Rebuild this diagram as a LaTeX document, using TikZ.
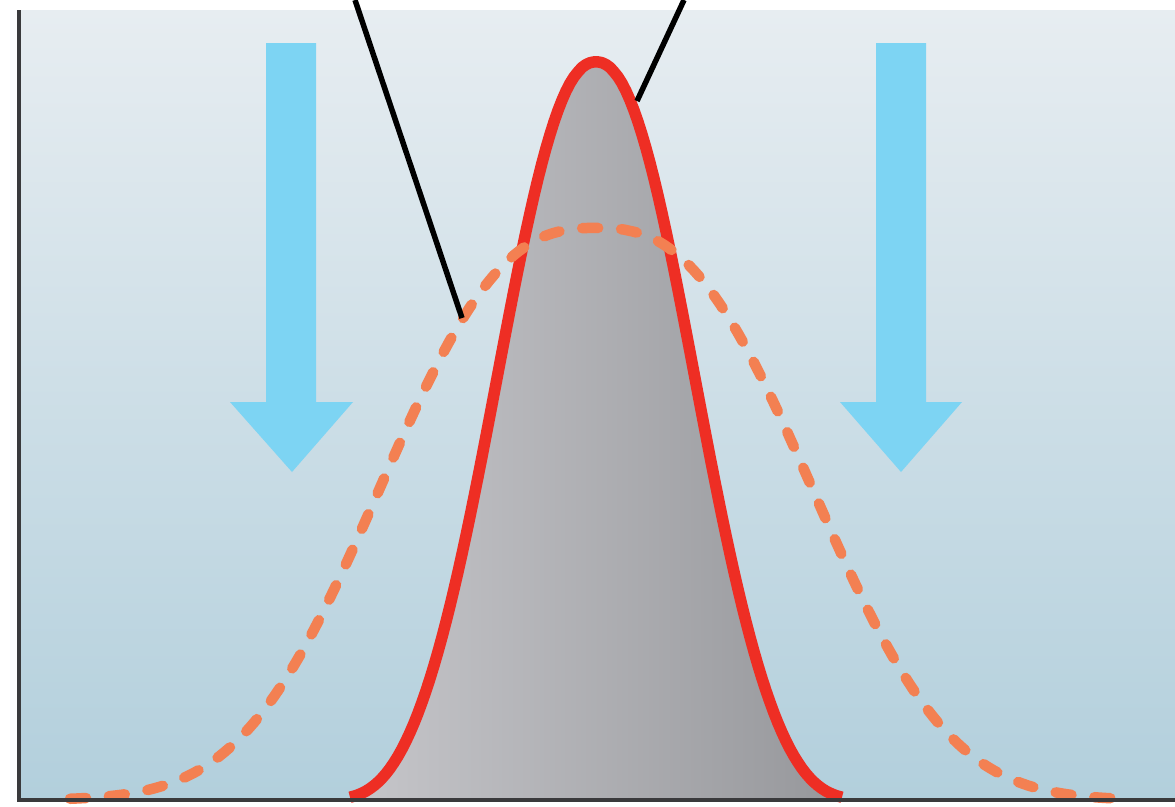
\documentclass[tikz,border=0pt]{standalone}
\usepackage{tikz}
\usetikzlibrary{arrows.meta,positioning}

\definecolor{bgtop}{RGB}{231,237,241}
\definecolor{bgbottom}{RGB}{178,207,220}
\definecolor{fillleft}{RGB}{198,198,202}
\definecolor{fillright}{RGB}{150,151,155}
\definecolor{peakred}{RGB}{238,46,36}
\definecolor{spreadorange}{RGB}{243,128,82}
\definecolor{arrowblue}{RGB}{125,212,243}
\definecolor{axisgray}{RGB}{58,58,60}

\begin{document}
\begin{tikzpicture}[
  x=0.2mm, y=-0.2mm,
  declare function={
    narrowpk(\x)=800-738*exp(-pow(abs(\x-596)/129+0.0001,2.2)-pow(abs(\x-596)/235,8));
    widepk(\x)=800-572*exp(-pow(abs(\x-596)/262+0.0001,2.6));
  },
  peakline/.style={draw=peakred, line width=2.3mm, line join=round},
  spreadline/.style={draw=spreadorange, line width=2.1mm, line cap=round,
                     dash pattern=on 3.2mm off 4.6mm},
  downarrow/.style={fill=arrowblue},
  leader/.style={draw=black, line width=1.1mm},
  axisline/.style={draw=axisgray, line width=0.8mm}
]
\useasboundingbox (0,0) rectangle (1175,806);
\shade[top color=bgtop, bottom color=bgbottom] (19,10) rectangle (1175,800);

% narrow distribution
\shade[left color=fillleft, right color=fillright]
  plot[domain=350:842, samples=124] (\x,{narrowpk(\x)}) -- (842,800) -- (350,800) -- cycle;
\draw[peakline] plot[domain=350:842, samples=124] (\x,{narrowpk(\x)});

% wide distribution
\draw[spreadline] plot[domain=70:1118, samples=211] (\x,{widepk(\x)});

% arrows
\fill[downarrow] (266,43) -- (316,43) -- (316,402) -- (353,402) -- (292,472)
  -- (230,402) -- (266,402) -- cycle;
\fill[downarrow] (876,43) -- (926,43) -- (926,402) -- (962,402) -- (901,472)
  -- (840,402) -- (876,402) -- cycle;

% leaders
\coordinate (wideLbl) at (355,0);
\coordinate (wideTip) at (462,318);
\coordinate (narrowLbl) at (684,0);
\coordinate (narrowTip) at (637,101);
\draw[leader] (wideLbl) -- (wideTip);
\draw[leader] (narrowLbl) -- (narrowTip);

% axes
\draw[axisline] (19,10) -- (19,800) -- (1175,800);
\end{tikzpicture}
\end{document}
